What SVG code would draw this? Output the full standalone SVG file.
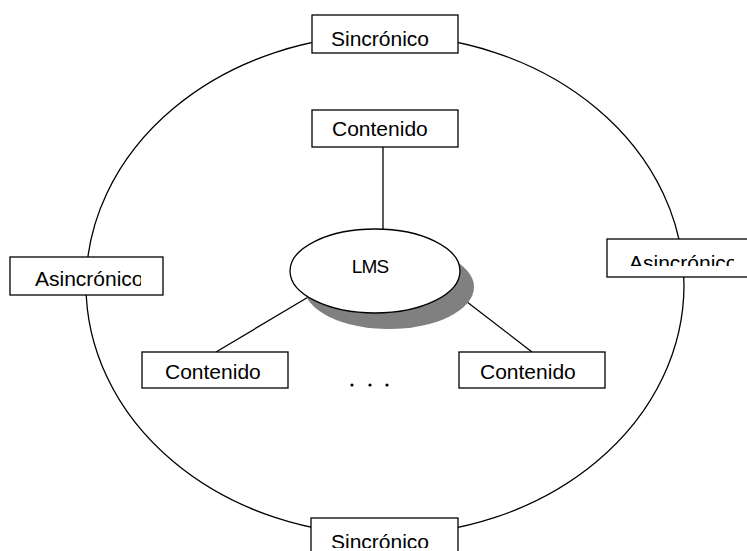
<svg xmlns="http://www.w3.org/2000/svg" width="747" height="551" viewBox="0 0 747 551">
<style>
.box{fill:#fff;stroke:#000;stroke-width:1.3}
.ln{fill:none;stroke:#000;stroke-width:1.3}
.t{font-family:"Liberation Sans",Arial,sans-serif;font-size:21px;fill:#000}
</style>
<defs>
<clipPath id="cL"><rect x="10" y="257" width="131" height="38"/></clipPath>
<clipPath id="cR"><rect x="607" y="239" width="127" height="27"/></clipPath>
<clipPath id="cB"><rect x="311" y="518" width="147" height="30"/></clipPath>
</defs>
<rect width="747" height="551" fill="#fff"/>
<g id="connectors">
<ellipse class="ln" cx="385" cy="285" rx="299" ry="250"/>
<line class="ln" x1="383" y1="147" x2="383" y2="230"/>
<line class="ln" x1="310" y1="296" x2="216" y2="352"/>
<line class="ln" x1="458" y1="295" x2="532" y2="352"/>
</g>
<g id="lms">
<ellipse cx="389" cy="287" rx="85" ry="42" fill="#808080"/>
<ellipse class="box" cx="375" cy="271" rx="85" ry="42"/>
<text class="t" x="370" y="273" text-anchor="middle" style="font-size:19px;letter-spacing:-0.8px">LMS</text>
</g>
<g id="sync-top">
<rect class="box" x="312" y="15" width="146" height="38"/>
<text class="t" x="331" y="46">Sincrónico</text>
</g>
<g id="sync-bottom">
<rect class="box" x="311" y="518" width="147" height="40"/>
<text class="t" x="331" y="549" clip-path="url(#cB)">Sincrónico</text>
</g>
<g id="async-left">
<rect class="box" x="10" y="257" width="153" height="38"/>
<text class="t" x="35" y="286" clip-path="url(#cL)">Asincrónico</text>
</g>
<g id="async-right">
<rect class="box" x="607" y="239" width="160" height="38"/>
<text class="t" x="629" y="270" clip-path="url(#cR)">Asincrónico</text>
</g>
<g id="content-top">
<rect class="box" x="312" y="110" width="146" height="37"/>
<text class="t" x="332" y="136">Contenido</text>
</g>
<g id="content-left">
<rect class="box" x="142" y="352" width="146" height="36"/>
<text class="t" x="165" y="379">Contenido</text>
</g>
<g id="content-right">
<rect class="box" x="459" y="352" width="146" height="36"/>
<text class="t" x="480" y="379">Contenido</text>
</g>
<g id="dots">
<circle cx="352" cy="385" r="1.6"/>
<circle cx="370" cy="385" r="1.6"/>
<circle cx="387" cy="385" r="1.6"/>
</g>
</svg>
